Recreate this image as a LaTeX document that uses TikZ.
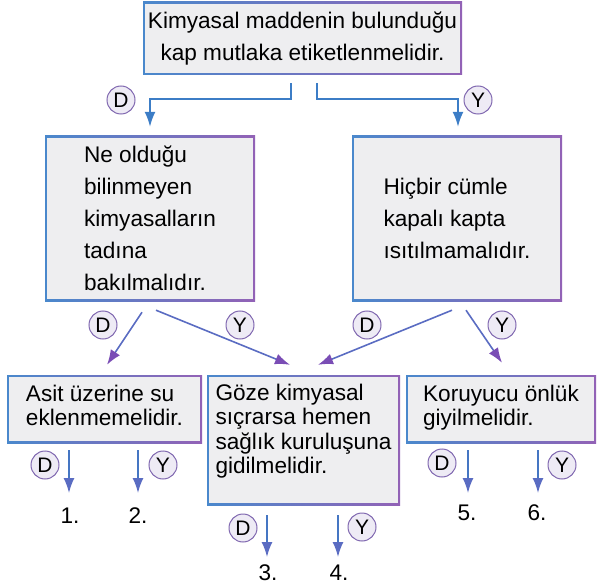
\documentclass[tikz,border=0pt]{standalone}
\usepackage{fontspec}
\setmainfont{Liberation Sans}
\usetikzlibrary{arrows.meta,calc}
\definecolor{bblue}{HTML}{4A88CC}
\definecolor{bpurple}{HTML}{9262B6}
\definecolor{boxgray}{HTML}{EEEEF0}
\definecolor{ablue}{HTML}{3C7DC6}
\definecolor{apurple}{HTML}{7A4DB5}
\definecolor{amid}{HTML}{5A6CC2}
\definecolor{clav}{HTML}{EEEBF5}
\definecolor{cedge}{HTML}{8068B0}
\tikzset{
  box/.style={rectangle, inner sep=0pt, left color=bblue, right color=bpurple,
    path picture={\fill[boxgray] ([shift={(1.8pt,-1.8pt)}]path picture bounding box.north west) rectangle ([shift={(-1.8pt,1.8pt)}]path picture bounding box.south east);},
    font=\fontsize{22.6}{32}\selectfont, align=left},
  sbox/.style={box, font=\fontsize{22.6}{24.5}\selectfont},
  arrT/.style={draw=ablue, line width=1.7pt, -{Latex[length=15pt,width=11pt]}},
  arrD/.style={draw=amid, line width=1.6pt, -{Latex[length=15pt,width=11pt,color=apurple]}},
  arrV/.style={draw=ablue!85!apurple, line width=1.6pt, -{Latex[length=15pt,width=11pt,color=amid]}},
  yd/.style={circle, draw=cedge, line width=1pt, fill=clav, inner sep=0pt, minimum size=28pt, font=\fontsize{21}{21}\selectfont},
  num/.style={font=\fontsize{22.6}{22.6}\selectfont, inner sep=0pt}
}
\begin{document}
\begin{tikzpicture}[x=1pt, y=-1pt]
\useasboundingbox (0,0) rectangle (597,588);
% boxes
\node[box, align=center, minimum width=319pt, minimum height=73pt] (top) at (302.5,38.5)
  {Kimyasal maddenin bulunduğu\\kap mutlaka etiketlenmelidir.};
\node[box, minimum width=210pt, minimum height=165pt] (ml) at (150,218.5)
  {Ne olduğu\\bilinmeyen\\kimyasalların\\tadına\\bakılmalıdır.};
\node[box, minimum width=210pt, minimum height=165pt] (mr) at (457,218.5)
  {Hiçbir cümle\\kapalı kapta\\ısıtılmamalıdır.};
\node[sbox, minimum width=195pt, minimum height=68pt] (bl) at (104.5,409)
  {Asit üzerine su\\eklenmemelidir.\rule[-7pt]{0pt}{0pt}};
\node[sbox, minimum width=193pt, minimum height=130pt] (bm) at (303.5,440)
  {Göze kimyasal\\sıçrarsa hemen\\sağlık kuruluşuna\\gidilmelidir.\rule[-22pt]{0pt}{0pt}};
\node[sbox, minimum width=190pt, minimum height=68pt] (br) at (501,409)
  {Koruyucu önlük\\giyilmelidir.\rule[-7pt]{0pt}{0pt}};
% D/Y circles
\node[yd] (c1) at (121,100) {D};
\node[yd] (c2) at (478,100) {Y};
\node[yd] (c3) at (103,325) {D};
\node[yd] (c4) at (240,325) {Y};
\node[yd] (c5) at (367,325) {D};
\node[yd] (c6) at (502,325) {Y};
\node[yd] (c7) at (45,465) {D};
\node[yd] (c8) at (163,465) {Y};
\node[yd] (c9) at (243,528) {D};
\node[yd] (c10) at (362,527) {Y};
\node[yd] (c11) at (442,463) {D};
\node[yd] (c12) at (562,465) {Y};
% numbers
\node[num] (l1) at (70,516) {1.};
\node[num] (l2) at (138,516) {2.};
\node[num] (l3) at (268,573) {3.};
\node[num] (l4) at (339,573) {4.};
\node[num] (l5) at (467,513) {5.};
\node[num] (l6) at (537,513) {6.};
% top connectors
\draw[arrT] ($(top.south)+(-11.5,8)$) -- ++(0,16) -| ($(ml.north)+(0,-9)$);
\draw[arrT] ($(top.south)+(14.5,8)$) -- ++(0,16) -| ($(mr.north)+(1,-9)$);
% diagonal connectors
\draw[arrD] ($(ml.south)+(-8,11)$) -- ($(bl.north)+(2.5,-10)$);
\draw[arrD] ($(ml.south)+(6,9)$) -- ($(bm.north)+(-13.5,-10)$);
\draw[arrD] ($(mr.south)+(-5,9)$) -- ($(bm.north)+(14.5,-10)$);
\draw[arrD] ($(mr.south)+(9,9)$) -- ($(br.north)+(1,-12)$);
% bottom connectors
\draw[arrV] ($(bl.south -| l1)+(-1,7)$) -- ($(l1)+(-1,-23)$);
\draw[arrV] ($(bl.south -| l2)+(0,7)$) -- ($(l2)+(0,-23)$);
\draw[arrV] ($(bm.south -| l3)+(-1,10)$) -- ($(l3)+(-1,-16)$);
\draw[arrV] ($(bm.south -| l4)+(-1,10)$) -- ($(l4)+(-1,-16)$);
\draw[arrV] ($(br.south -| l5)+(1,7)$) -- ($(l5)+(1,-20)$);
\draw[arrV] ($(br.south -| l6)+(1,7)$) -- ($(l6)+(1,-20)$);
\end{tikzpicture}
\end{document}
